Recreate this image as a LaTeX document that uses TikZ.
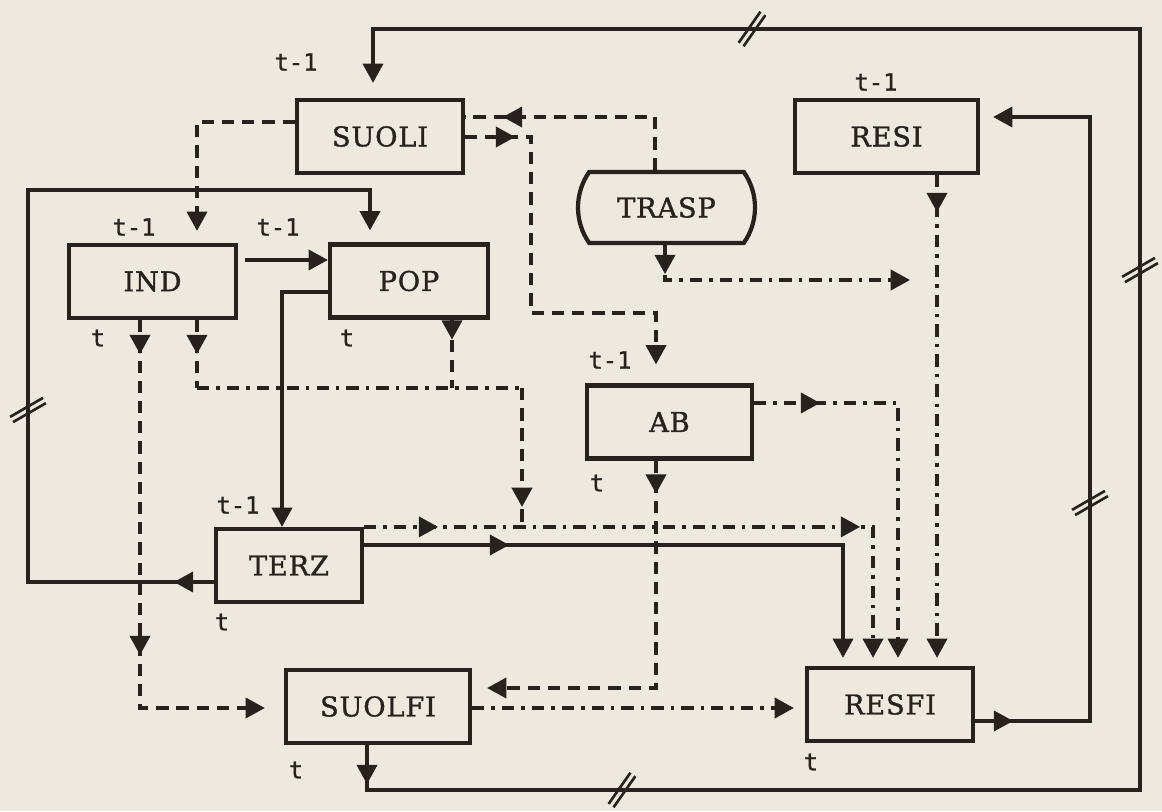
\documentclass[tikz,border=0pt]{standalone}
\usepackage{fontspec}
\newfontfamily\boxfont{DejaVu Serif}[LetterSpace=3.0,FakeBold=1.2]
\newfontfamily\tagfont{DejaVu Sans Mono}[FakeBold=1.0]
\usetikzlibrary{arrows.meta,decorations.markings,shapes.misc}
\definecolor{paper}{RGB}{237,233,223}
\definecolor{ink}{RGB}{40,34,30}

\begin{document}
\begin{tikzpicture}[
  x=1cm,y=1cm,
  box/.style={draw=ink,line width=2.4pt,minimum height=1.46cm,inner sep=0pt,
              font=\boxfont\fontsize{15.5}{18}\selectfont,text=ink},
  tapebox/.style={box,rounded rectangle,rounded rectangle arc length=70},
  tag/.style={font=\tagfont\fontsize{13.5}{16}\selectfont,text=ink},
  wire/.style={draw=ink,line width=2pt},
  dashwire/.style={wire,dash pattern=on 7pt off 4.5pt},
  dotwire/.style={wire,dash pattern=on 7pt off 4pt on 2pt off 4pt},
  tipend/.style={-{Triangle[length=11pt,width=11.5pt]}},
  midtip/.style={postaction={decorate,decoration={markings,
      mark=at position #1 with {\arrow{Triangle[length=11pt,width=11.5pt]}}}}},
  breakmark/.style={draw=ink,line width=1.5pt}
]
\fill[paper] (0,0) rectangle (23.24,16.22);
\useasboundingbox (0,0) rectangle (23.24,16.22);

\foreach \name/\x/\y/\w/\txt in {suoli/7.60/13.49/3.32/SUOLI,
    resi/17.73/13.49/3.66/RESI, ind/3.05/10.59/3.34/IND,
    pop/8.18/10.60/3.16/POP, ab/13.39/7.78/3.30/AB,
    terz/5.78/4.91/2.92/TERZ, suolfi/7.56/2.09/3.68/SUOLFI,
    resfi/17.80/2.13/3.32/RESFI}
  \node[box,minimum width=\w cm] (\name) at (\x,\y) {\txt};
\node[tapebox,minimum width=3.54cm,minimum height=1.42cm] (trasp)
  at (13.33,12.07) {TRASP};

\foreach \x/\y/\t [count=\i] in {5.92/14.98/t-1, 17.52/14.58/t-1,
    2.68/11.68/t-1, 5.56/11.68/t-1, 1.96/9.46/t, 6.94/9.46/t,
    12.20/9.02/t-1, 11.94/6.56/t, 4.76/6.12/t-1, 4.44/3.78/t,
    5.92/0.82/t, 16.22/0.98/t}
  \node[tag] (tag\i) at (\x,\y) {\t};

\coordinate (indpop) at (3.94,8.46);
\coordinate (poprail) at (9.04,8.46);
\coordinate (railend) at (10.44,8.46);
\coordinate (terzjoin) at (terz.north east -| 10.44,0);
\coordinate (resirail) at (18.74,10.62);

\draw[dashwire,tipend,shorten >=0.24cm] (suoli.west |- 0,13.78)
  -| (ind.north -| 3.94,0);
\draw[wire,tipend,shorten >=0.24cm,midtip=0.8cm] (terz.west |- 0,4.58)
  -| (0.56,12.42) -| (pop.north -| 7.40,0);
\draw[wire,tipend,shorten <=0.14cm] (ind.east |- 0,11.02)
  -- (pop.west |- 0,11.02);
\draw[wire,tipend] (pop.west |- 0,10.38) -| (terz.north -| 5.64,0);
\draw[dashwire,tipend,shorten >=0.38cm,midtip=0.68cm,midtip=6.70cm]
  (ind.south -| 2.80,0) |- (suolfi.west |- 0,2.06);

\draw[dashwire,midtip=0.68cm] (ind.south -| 3.94,0) -- (indpop);
\draw[dotwire] (indpop) -- (railend);
\draw[dashwire,midtip=0.4cm] (pop.south -| 9.04,0) -- (poprail);
\draw[dashwire,midtip=2.38cm] (railend) -- (terzjoin);

\draw[dashwire,midtip=4.10cm] (trasp.north -| 13.10,0)
  |- (suoli.east |- 0,13.88);
\draw[dashwire,tipend,shorten >=0.38cm,midtip=1.0cm] (suoli.east |- 0,13.48)
  -| (10.62,9.96) -| (ab.north -| 13.12,0);

\draw[dotwire,tipend,shorten >=0.16cm,midtip=0.74cm] (resi.south -| 18.74,0)
  -- (resfi.north -| 18.74,0);
\draw[dotwire,tipend,shorten >=0.54cm,midtip=0.58cm] (trasp.south -| 13.30,0)
  |- (resirail);
\draw[dotwire,tipend,shorten >=0.16cm,midtip=1.32cm] (ab.east |- 0,8.16)
  -| (resfi.north -| 17.96,0);
\draw[dotwire,tipend,shorten >=0.16cm,midtip=1.48cm,midtip=9.92cm]
  (terz.north east) -| (resfi.north -| 17.46,0);
\draw[wire,tipend,shorten >=0.16cm,midtip=2.9cm] (terz.east |- 0,5.32)
  -| (resfi.north -| 16.86,0);

\draw[dashwire,tipend,shorten >=0.3cm,midtip=0.66cm] (ab.south -| 13.12,0)
  |- (suolfi.east |- 0,2.46);
\draw[dotwire,tipend,shorten >=0.22cm] (suolfi.east |- 0,2.06)
  -- (resfi.west |- 0,2.06);

\draw[wire,tipend,shorten >=0.26cm,midtip=0.76cm] (resfi.east |- 0,1.80)
  -| (21.80,13.88) -- (resi.east |- 0,13.88);
\draw[wire,tipend,shorten >=0.3cm,midtip=0.78cm] (suolfi.south -| 7.34,0)
  |- (22.80,0.42) |- (7.46,15.64) -- (suoli.north -| 7.46,0);

\foreach \bx/\by/\ang in {12.44/0.42/55, 15.04/15.64/55, 22.80/10.82/30,
    21.80/6.16/30, 0.56/8.02/30}
  \foreach \off in {-0.06,0.06}
    \draw[breakmark] (\bx,\by) ++({\ang+90}:\off) ++(\ang:-0.38) -- ++(\ang:0.76);
\end{tikzpicture}
\end{document}
